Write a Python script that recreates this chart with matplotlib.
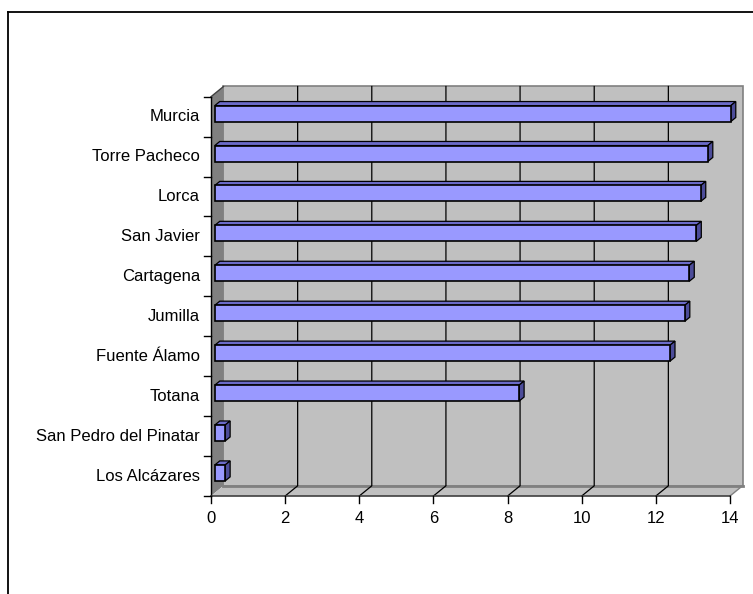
import numpy as np
import matplotlib.pyplot as plt
from matplotlib.patches import Polygon, Rectangle

plt.rcParams['font.family'] = ['Liberation Sans', 'DejaVu Sans']

# data, bottom to top
towns = ['Los Alcázares', 'San Pedro del Pinatar', 'Totana', 'Fuente Álamo',
         'Jumilla', 'Cartagena', 'San Javier', 'Lorca', 'Torre Pacheco', 'Murcia']
values = [0.28, 0.28, 8.21, 12.28, 12.68, 12.80, 12.99, 13.11, 13.30, 13.92]
xticks = [0, 2, 4, 6, 8, 10, 12, 14]

W, H = 753, 594
fig = plt.figure(figsize=(W / 100, H / 100), dpi=100)

# front plane in pixels
left_px, right_px, top_px, bot_px = 211, 730, 96.7, 496
ax = fig.add_axes([left_px / W, (H - bot_px) / H,
                   (right_px - left_px) / W, (bot_px - top_px) / H])
xmax, n = 14, len(towns)
ax.set_xlim(0, xmax)
ax.set_ylim(0, n)
ax.axis('off')

px_x = (right_px - left_px) / xmax   # pixels per x unit
px_y = (bot_px - top_px) / n         # pixels per category
DX = 12.5 / px_x
DY = 10.2 / px_y

wall = '#C0C0C0'
side = '#808080'

# back wall
ax.add_patch(Rectangle((DX, DY), xmax, n, facecolor=wall, edgecolor=side,
                       lw=1.2, zorder=1, clip_on=False))
# left wall
ax.add_patch(Polygon([(0, 0), (DX, DY), (DX, n + DY), (0, n)], closed=True,
                     facecolor=side, edgecolor='none', zorder=2, clip_on=False))
# floor
ax.add_patch(Polygon([(0, 0), (xmax, 0), (xmax + DX, DY), (DX, DY)], closed=True,
                     facecolor=wall, edgecolor='none', zorder=2, clip_on=False))
ax.plot([DX, xmax + DX], [DY, DY], color=side, lw=2, zorder=2.5, clip_on=False)
ax.plot([xmax, xmax + DX], [0, DY], color=side, lw=1, zorder=2.5, clip_on=False)

# gridlines
for t in xticks[1:-1]:
    ax.plot([t, t + DX, t + DX], [0, DY, n + DY], color='black', lw=0.9,
            zorder=3, clip_on=False)

# bars
f1, f2 = 0.3, 0.7
hw = 0.2
for i, v in enumerate(values):
    c = i + 0.5
    x0, y0 = f1 * DX, c - hw + f1 * DY
    x1, y1 = f2 * DX, c - hw + f2 * DY
    top = Polygon([(x0, y0 + 2 * hw), (x0 + v, y0 + 2 * hw),
                   (x1 + v, y1 + 2 * hw), (x1, y1 + 2 * hw)], closed=True,
                  facecolor='#6B6BC8', edgecolor='black', lw=0.9, zorder=4,
                  clip_on=False)
    rside = Polygon([(x0 + v, y0), (x0 + v, y0 + 2 * hw),
                     (x1 + v, y1 + 2 * hw), (x1 + v, y1)], closed=True,
                    facecolor='#4C4C99', edgecolor='black', lw=0.9, zorder=4,
                    clip_on=False)
    front = Rectangle((x0, y0), v, 2 * hw, facecolor='#9999FF',
                      edgecolor='black', lw=1.2, zorder=5, clip_on=False)
    ax.add_patch(top)
    ax.add_patch(rside)
    ax.add_patch(front)

# axis lines
ax.plot([0, 0], [0, n], color='black', lw=1, zorder=6, clip_on=False)
ax.plot([0, DX], [n, n + DY], color='#404040', lw=1, zorder=6, clip_on=False)
ax.plot([0, xmax], [0, 0], color='#404040', lw=1.2, zorder=6, clip_on=False)

tk_x = 7 / px_y
tk_y = 7 / px_x
for t in xticks:
    ax.plot([t, t], [0, -tk_x], color='black', lw=1, zorder=6, clip_on=False)
    ax.text(t, -22.5 / px_y, str(t), ha='center', va='center', fontsize=12)
for j in range(n + 1):
    ax.plot([-tk_y, 0], [j, j], color='black', lw=1, zorder=6, clip_on=False)
for i, name in enumerate(towns):
    ax.text(-11 / px_x, i + 0.5, name, ha='right', va='center', fontsize=12)

# outer frame (only top and left edges visible)
fig.add_artist(plt.Line2D([7.5 / W, 1], [1 - 12 / H, 1 - 12 / H],
                          color='black', lw=1.3))
fig.add_artist(plt.Line2D([7.5 / W, 7.5 / W], [0, 1 - 12 / H],
                          color='black', lw=1.3))

plt.savefig('out.png', dpi=100)
